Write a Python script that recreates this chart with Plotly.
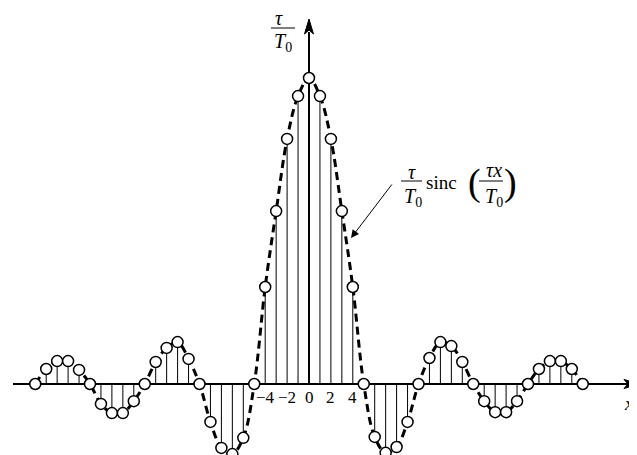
import plotly.graph_objects as go

# ---- data (peak normalised to 1) ----
n_vals = list(range(-25, 26))
amp_left = [0.000, 0.049, 0.075, 0.075, 0.046, 0.000,          # -25..-20
            -0.065, -0.095, -0.095, -0.056, 0.000,             # -19..-15
            0.072, 0.118, 0.137, 0.082, 0.000,                 # -14..-10
            -0.124, -0.209, -0.229, -0.176, 0.000,             # -9..-5
            0.317, 0.565, 0.801, 0.941]                        # -4..-1
amp_center = [1.000]                                           # 0
amp_right = [0.941, 0.801, 0.565, 0.317, 0.000,                # 1..5
             -0.173, -0.225, -0.206, -0.124, 0.000,            # 6..10
             0.085, 0.137, 0.124, 0.072, 0.000,                # 11..15
             -0.056, -0.092, -0.092, -0.056, 0.000,            # 16..20
             0.049, 0.075, 0.075, 0.049, 0.000]                # 21..25
amp = amp_left + amp_center + amp_right

tick_vals = [-4, -2, 0, 2, 4]
tick_text = ["\u22124", "\u22122", "0", "2", "4"]

# ---- geometry of the canvas ----
W, H = 637, 455
X0_PX, X_SCALE = 301, 10.95     # pixel of x=0, pixels per unit
Y0_PX, Y_SCALE = 376, 306       # pixel of y=0, pixels per unit
x_range = [-X0_PX / X_SCALE, (W - X0_PX) / X_SCALE]
y_range = [-(H - Y0_PX) / Y_SCALE, Y0_PX / Y_SCALE]

def px(x):
    return x / W

def py(y):
    return 1 - y / H

SERIF = "Liberation Serif, Times New Roman, serif"

fig = go.Figure()

# stems
sx, sy = [], []
for n, a in zip(n_vals, amp):
    sx += [n, n, None]
    sy += [0, a, None]
fig.add_trace(go.Scatter(x=sx, y=sy, mode="lines",
                         line=dict(color="black", width=1), hoverinfo="skip"))

# dashed envelope
fig.add_trace(go.Scatter(x=n_vals, y=amp, mode="lines",
                         line=dict(color="black", width=3, dash="8px,5px",
                                   shape="spline", smoothing=1.0),
                         hoverinfo="skip"))

# sample circles
fig.add_trace(go.Scatter(x=n_vals, y=amp, mode="markers",
                         marker=dict(symbol="circle", size=11, color="white",
                                     line=dict(color="black", width=1.5)),
                         hoverinfo="skip"))

shapes = []
# horizontal axis (below markers)
shapes.append(dict(type="line", xref="paper", yref="y",
                   x0=px(5), x1=px(620), y0=0, y1=0,
                   line=dict(color="black", width=2), layer="below"))
# vertical axis (below markers)
shapes.append(dict(type="line", xref="x", yref="paper",
                   x0=0, x1=0, y0=py(Y0_PX), y1=py(24),
                   line=dict(color="black", width=2), layer="below"))

def arrow_head(tip, direction, length, half_w, notch):
    tx, ty = tip
    dx, dy = direction
    nx, ny = -dy, dx
    bx, by = tx - dx * length, ty - dy * length
    p1 = (bx + nx * half_w, by + ny * half_w)
    p2 = (tx - dx * (length - notch), ty - dy * (length - notch))
    p3 = (bx - nx * half_w, by - ny * half_w)
    pts = [(tx, ty), p1, p2, p3]
    d = "M " + " L ".join(f"{px(a):.5f},{py(b):.5f}" for a, b in pts) + " Z"
    return dict(type="path", xref="paper", yref="paper", path=d,
                fillcolor="black", line=dict(color="black", width=1), layer="above")

shapes.append(arrow_head((631, Y0_PX), (1, 0), 15, 4.5, 4))
shapes.append(arrow_head((X0_PX, 11), (0, -1), 15, 4.5, 4))

# fraction bars
shapes.append(dict(type="line", xref="paper", yref="paper",
                   x0=px(263), x1=px(287), y0=py(20), y1=py(20),
                   line=dict(color="black", width=1)))
shapes.append(dict(type="line", xref="paper", yref="paper",
                   x0=px(393), x1=px(414), y0=py(173), y1=py(173),
                   line=dict(color="black", width=1)))
shapes.append(dict(type="line", xref="paper", yref="paper",
                   x0=px(471), x1=px(495), y0=py(173), y1=py(173),
                   line=dict(color="black", width=1)))

annotations = []

def txt(x, y, s, size=20):
    annotations.append(dict(x=px(x), y=py(y), xref="paper", yref="paper",
                            text=s, showarrow=False, xanchor="center",
                            yanchor="middle",
                            font=dict(family=SERIF, size=size, color="black")))

# y-axis label tau / T0
txt(271, 10, "<i>\u03c4</i>")
txt(275, 35, "<i>T</i><sub>0</sub>")
# x-axis label
txt(621, 395, "<i>x</i>", size=19)

# curve label
txt(404, 164, "<i>\u03c4</i>")
txt(405, 189, "<i>T</i><sub>0</sub>")
txt(433, 175, "sinc", size=19)
txt(466, 175, "(", size=38)
txt(486, 162, "<i>\u03c4x</i>")
txt(486, 189, "<i>T</i><sub>0</sub>")
txt(503, 175, ")", size=38)

# leader arrow
annotations.append(dict(x=(343 - X0_PX) / X_SCALE, y=(Y0_PX - 230) / Y_SCALE,
                        xref="x", yref="y", ax=42, ay=-55, text="",
                        showarrow=True, arrowhead=2, arrowsize=1.6,
                        arrowwidth=1, arrowcolor="black"))

# tick labels
for v, t in zip(tick_vals, tick_text):
    annotations.append(dict(x=v, y=0, xref="x", yref="y", text=t,
                            showarrow=False, xanchor="center", yanchor="middle",
                            yshift=-13,
                            font=dict(family=SERIF, size=17, color="black")))

fig.update_layout(
    width=W, height=H,
    margin=dict(l=0, r=0, t=0, b=0, pad=0),
    paper_bgcolor="white", plot_bgcolor="white",
    showlegend=False,
    xaxis=dict(range=x_range, visible=False, fixedrange=True),
    yaxis=dict(range=y_range, visible=False, fixedrange=True),
    shapes=shapes, annotations=annotations,
)

fig.write_html("out.html")
